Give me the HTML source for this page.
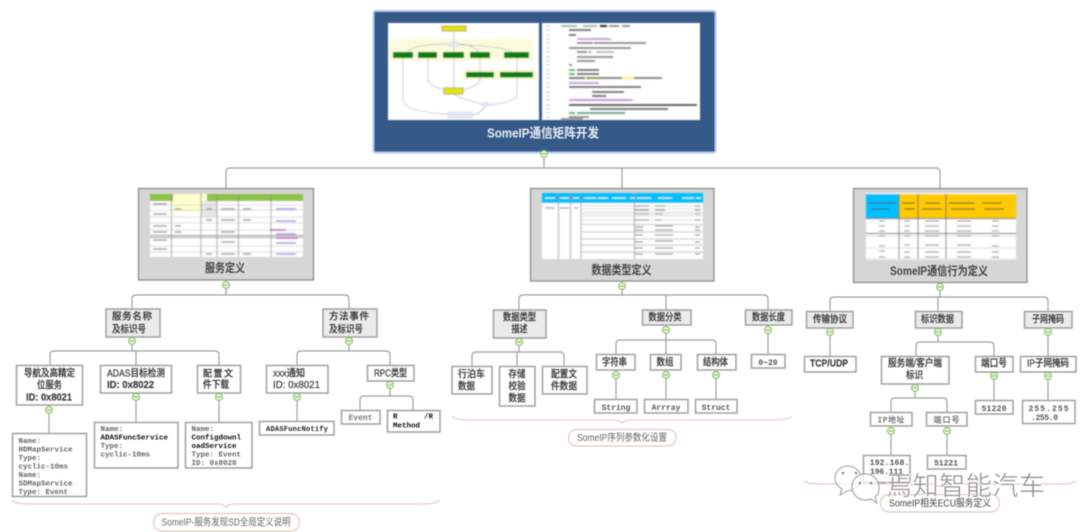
<!DOCTYPE html>
<html lang="zh">
<head>
<meta charset="utf-8">
<title>SomeIP通信矩阵开发</title>
<style>
html,body{margin:0;padding:0;background:#fff;width:1080px;height:532px;overflow:hidden}
svg{display:block;filter:blur(.4px)}
text{font-family:"Liberation Sans","Noto Sans CJK SC",sans-serif;fill:#3c3c3c}
.t{font-size:10px;text-anchor:middle;font-weight:500;stroke:#3c3c3c;stroke-width:.2px}
.b{font-weight:bold}
.h{font-size:11px;text-anchor:middle;font-weight:bold;fill:#444}
.m{font-family:"Liberation Mono","Noto Sans CJK SC",monospace;font-size:7.5px;fill:#666;font-weight:bold}
.md{font-family:"Liberation Mono","Noto Sans CJK SC",monospace;font-size:7.5px;fill:#111;font-weight:bold}
.mc{font-family:"Liberation Mono","Noto Sans CJK SC",monospace;font-size:8px;fill:#555;text-anchor:middle;font-weight:bold}
.s{font-size:10px;text-anchor:middle;fill:#666}
.box{fill:#fff;stroke:#a0a0a0;stroke-width:1.5}
.g{fill:#ebebeb;stroke:#a0a0a0;stroke-width:1.5}
.tp{fill:#d6d6d6;stroke:#8e8e8e;stroke-width:1.3}
.c{fill:none;stroke:#a0a0a0;stroke-width:1.2}
.br{fill:none;stroke:#dcc4b6;stroke-width:1}
.lab{fill:#fff;stroke:#d9bfb0;stroke-width:1}
.tl{stroke:#bbb;stroke-width:.6;fill:none}
.td{stroke:#888;stroke-width:.8;fill:none}
.gr{fill:#0a7d0a}
.ye{fill:#e9e400;stroke:#777;stroke-width:.6}
.li{fill:#e6e6fa;stroke:#ccc;stroke-width:.4}
.fl{fill:none;stroke:#b8b8b8;stroke-width:.7}
.q{font-size:10px;font-weight:500;stroke:#3c3c3c;stroke-width:.2px}
</style>
</head>
<body>
<svg width="1080" height="532" viewBox="0 0 1080 532" xmlns="http://www.w3.org/2000/svg">
<defs>
<g id="cz">
<circle r="3.5" fill="#eaf5e0" stroke="#8cc46a" stroke-width="1.1"/>
<rect x="-2.2" y="-.6" width="4.4" height="1.2" fill="#8cc46a"/>
</g>
<filter id="bl" x="-5%" y="-5%" width="110%" height="110%"><feGaussianBlur stdDeviation=".6"/></filter>
</defs>
<rect width="1080" height="532" fill="#fff"/>

<!-- connectors -->
<path class="c" d="M544 158V168M226 188V172Q226 168 230 168H936Q940 168 940 172V188M622 168V188"/>
<path class="c" d="M226 280V295M132 309V299Q132 295 136 295H345Q349 295 349 299V309"/>
<path class="c" d="M132 337V351M50 365V355Q50 351 54 351H215Q219 351 219 355V365M136 351V365"/>
<path class="c" d="M349 337V351M297 365V355Q297 351 301 351H386Q390 351 390 355V365"/>
<path class="c" d="M49 405V433M136 393V422M219 393V422M297 393V421"/>
<path class="c" d="M390 381V396M360 410V400Q360 396 364 396H409Q413 396 413 400V410"/>
<path class="c" d="M622 281V295M519 310V299Q519 295 523 295H764Q768 295 768 299V310M666 295V310"/>
<path class="c" d="M519 338V352M472 366V356Q472 352 476 352H560Q564 352 564 356V366M517 352V366"/>
<path class="c" d="M666 325V354M616 354V344Q616 340 620 340H712Q716 340 716 344V354"/>
<path class="c" d="M616 370V399M666 370V399M716 370V399M768 325V354"/>
<path class="c" d="M940 283V297M830 311V301Q830 297 834 297H1044Q1048 297 1048 301V311M938 297V311"/>
<path class="c" d="M830 328V356M1048 328V356M1048 372V400M994 372V400"/>
<path class="c" d="M938 328V342M916 356V346Q916 342 920 342H990Q994 342 994 346V356"/>
<path class="c" d="M915 384V398M891 412V402Q891 398 895 398H943Q947 398 947 402V412"/>
<path class="c" d="M891 426V455M947 426V455"/>

<!-- root -->
<rect x="373.500" y="11" width="342" height="141.500" rx="2" fill="#365a87" stroke="#b4c6f5" stroke-width="2"/>
<rect x="388" y="23" width="151" height="97" fill="#fff" stroke="#9fb0c8" stroke-width=".6"/>
<rect x="542" y="23" width="158" height="97" fill="#fff" stroke="#9fb0c8" stroke-width=".6"/>
<g filter="url(#bl)">
<rect x="389" y="39" width="144" height="22" fill="#fbfbdc"/>
<rect x="462" y="69" width="75" height="11" fill="#fbfbdc"/>
<rect class="ye" x="442" y="26" width="24" height="5"/>
<path class="fl" d="M454 31V42M454 47V88M408 58Q402 44 448 44M428 58V80Q428 85 444 90M480 58Q480 46 460 44M517 58Q516 46 460 45M403 58V100Q404 112 448 114M480 58V72M517 58V72M517 77V95Q516 102 489 105M480 77V80Q478 86 463 90M454 94Q458 98 482 104M485 107Q480 114 472 115"/>
<rect class="gr" x="393" y="52" width="20" height="6"/><rect class="gr" x="418" y="52" width="19" height="6"/><rect class="gr" x="443" y="52" width="21" height="6"/><rect class="gr" x="470" y="52" width="20" height="6"/><rect class="gr" x="504" y="52" width="25" height="6"/>
<rect class="gr" x="466" y="72" width="28" height="5.500"/><rect class="gr" x="500" y="72" width="33" height="5.500"/>
<rect class="ye" x="444" y="88" width="19" height="6"/>
<ellipse class="li" cx="454" cy="44.500" rx="6" ry="2.500"/><ellipse class="li" cx="485.500" cy="104.500" rx="3.500" ry="2.500"/>
<rect class="li" x="448" y="112" width="24" height="6"/>
<path stroke="#dcdcdc" stroke-width="1.500" d="M546 26h4M546 30h4M546 35h4M546 39h4M546 43h4M546 48h4M546 52h4M546 57h4M546 61h4M546 65h4M546 70h4M546 74h4M546 78h4M546 83h4M546 87h4M546 92h4M546 96h4M546 100h4M546 105h4M546 109h4M546 113h4M546 117h4"/>
<g fill="none" stroke-width="1.500">
<path stroke="#8aa39a" d="M561 26h16M583 26h14"/><path stroke="#222" stroke-width="2" d="M600 26h7"/><path stroke="#777" d="M609 26h10M622 26h8"/>
<path stroke="#555" d="M569 30h22M569 35h7M577 70h22M577 74h22"/>
<path stroke="#b58ad0" d="M577 39h34M577 100h52"/>
<path stroke="#777" d="M577 43h16M594 43h52M569 48h62M577 52h10"/><path stroke="#aaa" d="M588 52h4M596 52h18"/>
<path stroke="#777" d="M577 57h36M577 61h18M569 65h3"/>
<path stroke="#3a9a5a" d="M569 70h6M569 74h6M569 113h6"/><path stroke="#555" d="M569 78h16"/><path stroke="#fdf3a0" stroke-width="3" d="M586 78h14M622 78h12"/><path stroke="#666" d="M586 78h36M634 78h28"/>
<path stroke="#b58ad0" d="M569 83h30"/><path stroke="#555" d="M569 87h72M592 92h32M592 96h14"/>
<path stroke="#b58ad0" d="M569 100h64"/><path stroke="#333" d="M569 105h128"/><path stroke="#555" d="M590 109h78"/><path stroke="#4a8f6a" d="M577 113h48"/><path stroke="#777" d="M569 117h20M561 119h22"/>
</g>
</g>
<text x="543" y="137.500" textLength="112" lengthAdjust="spacingAndGlyphs" font-size="13" font-weight="bold" text-anchor="middle" style="fill:#e6ecf4">SomeIP通信矩阵开发</text>
<use href="#cz" x="544" y="154"/>

<!-- topic 1 -->
<rect class="tp" x="138.500" y="188.500" width="175" height="91.500"/>
<g filter="url(#bl)">
<rect x="150" y="194" width="153" height="63" fill="#fff"/>
<rect x="150" y="194" width="153" height="7" fill="#8fc24a"/>
<rect x="173" y="194" width="34" height="18" fill="#ffffcc"/>
<rect x="201" y="201" width="16" height="16" fill="#e6e6e6"/>
<path class="td" d="M171.500 194V257M201 194V257M217 194V257M238.500 194V257M271 194V257"/>
<path class="tl" d="M150 205H303M150 210H303M150 217H303M150 223H303M150 230H303M150 236H303M150 246H303M150 252H303"/>
<path stroke="#999" stroke-width="1" d="M150 235.500H303M150 237.500H303"/>
<path stroke="#888" stroke-width="1.200" fill="none" d="M153 204h14M153 214h14M153 226h14M153 232h14M153 240h14M153 249h14M175 209h6M175 226h6M175 232h6M206 209h6M206 220h6M206 254h6M221 209h14M221 220h14M221 232h14M221 242h14M221 254h14M243 209h8M243 220h8M243 254h8"/>
<path stroke="#7a80e8" stroke-width="1.200" d="M276 209h20M276 221h20M276 234h20M276 243h20M276 254h20"/>
<path stroke="#c04fb0" stroke-width="1.500" d="M270 230h16M276 238h22"/>
</g>
<text class="h" x="225" y="272" textLength="40" lengthAdjust="spacingAndGlyphs" style="font-size:12px">服务定义</text>
<use href="#cz" x="226" y="285"/>

<rect class="g" x="106" y="309" width="54" height="28"/>
<text class="q" x="112" y="319.500" textLength="40" style="font-size:9.500px">服务名称</text>
<text class="q" x="112" y="332.500" textLength="34" lengthAdjust="spacingAndGlyphs">及标识号</text>
<use href="#cz" x="132" y="341"/>
<rect class="g" x="323" y="309" width="54" height="28"/>
<text class="q" x="329" y="319.500" textLength="40" style="font-size:9.500px">方法事件</text>
<text class="q" x="329" y="332.500" textLength="34" lengthAdjust="spacingAndGlyphs">及标识号</text>
<use href="#cz" x="349" y="341"/>

<rect class="box" x="16.500" y="365.500" width="66" height="39.500"/>
<text class="t" x="49.500" y="376.500" textLength="51" lengthAdjust="spacingAndGlyphs">导航及高精定</text>
<text class="t" x="49.500" y="388.500" textLength="25" lengthAdjust="spacingAndGlyphs">位服务</text>
<text class="t b" x="49" y="400.500" textLength="46" lengthAdjust="spacingAndGlyphs">ID: 0x8021</text>
<use href="#cz" x="49" y="410"/>
<rect class="box" x="100.500" y="365.500" width="71" height="27.500"/>
<text class="t" x="136" y="376.500" textLength="58" lengthAdjust="spacingAndGlyphs">ADAS目标检测</text>
<text class="t b" x="130.500" y="388" textLength="47" lengthAdjust="spacingAndGlyphs">ID: 0x8022</text>
<use href="#cz" x="136" y="397"/>
<rect class="box" x="197.500" y="365.500" width="43" height="27.500"/>
<text class="q" x="203" y="376.500" textLength="30" style="font-size:9px">配置文</text>
<text class="q" x="203" y="388" textLength="26" lengthAdjust="spacingAndGlyphs">件下载</text>
<use href="#cz" x="219" y="397"/>

<rect class="box" x="12.500" y="433.500" width="74" height="63"/>
<text class="m" x="18.500" y="443">Name:</text>
<text class="m" x="18.500" y="451.500">HDMapService</text>
<text class="m" x="18.500" y="460">Type:</text>
<text class="m" x="18.500" y="468.500">cyclic-10ms</text>
<text class="m" x="18.500" y="477">Name:</text>
<text class="m" x="18.500" y="485.500">SDMapService</text>
<text class="m" x="18.500" y="494">Type: Event</text>

<rect class="box" x="94.500" y="422.500" width="83.500" height="45.500"/>
<text class="m" x="100.500" y="431">Name:</text>
<text class="md" x="100.500" y="439.500">ADASFuncService</text>
<text class="m" x="100.500" y="448">Type:</text>
<text class="m" x="100.500" y="456.500">cyclic-10ms</text>

<rect class="box" x="185.500" y="422.500" width="66.500" height="45.500"/>
<text class="m" x="191.500" y="431">Name:</text>
<text class="md" x="191.500" y="439.500">Configdownl</text>
<text class="md" x="191.500" y="448">oadService</text>
<text class="m" x="191.500" y="456.500">Type: Event</text>
<text class="m" x="191.500" y="465">ID: 0x8028</text>

<rect class="box" x="266.500" y="365.500" width="61.500" height="27.500"/>
<text class="q" x="273" y="376.500" textLength="32" lengthAdjust="spacingAndGlyphs">xxx通知</text>
<text class="q b" x="273" y="388" textLength="47" lengthAdjust="spacingAndGlyphs">ID: 0x8021</text>
<use href="#cz" x="297" y="397"/>
<rect class="box" x="367.500" y="365.500" width="46.500" height="15.500"/>
<text class="t" x="390.500" y="376.500" textLength="33" lengthAdjust="spacingAndGlyphs">RPC类型</text>
<use href="#cz" x="390" y="385"/>
<rect class="box" x="259.500" y="421.500" width="74.500" height="13.500"/>
<text x="266" y="431" style="font-family:'Liberation Mono',monospace;font-size:7px;font-weight:bold;fill:#222" textLength="62">ADASFuncNotify</text>
<rect class="box" x="341.500" y="410.500" width="38.500" height="13.500"/>
<text class="mc" x="360.500" y="420" style="fill:#777">Event</text>
<rect class="box" x="387.500" y="410.500" width="52.500" height="21.500"/>
<text class="md" x="393" y="418.500">R</text><text class="md" x="424" y="418.500">/R</text>
<text class="md" x="393" y="427.500">Method</text>

<path class="br" d="M12 500Q14 504 30 504H218Q223 504 226 507Q229 504 234 504H422Q436 504 440 500"/>
<rect class="lab" x="153.500" y="513.500" width="146" height="17.500" rx="8.700"/>
<text class="s" x="226" y="525.500" textLength="129" lengthAdjust="spacingAndGlyphs">SomeIP-服务发现SD全局定义说明</text>

<!-- topic 2 -->
<rect class="tp" x="530.500" y="188.500" width="183.500" height="92.500"/>
<g filter="url(#bl)">
<rect x="542" y="193" width="161" height="66" fill="#fff"/>
<rect x="542" y="193" width="161" height="10" fill="#00bfff"/>
<path class="td" d="M558.500 193V259M570.500 193V259M581 193V259M634.500 193V259"/>
<path class="tl" d="M582 206H703M582 209H703M582 212H703M582 214H703M582 216H703M582 220H703"/>
<path stroke="#aaa" stroke-width=".7" d="M582 224.500H703M582 232H703M582 239H703M582 245H703M582 252H703"/>
<path stroke="#666" stroke-width="1" d="M545 208h10M560 208h9M574 208h4M635 206h14M655 206h10M695 206h5M635 210h14M655 210h10M695 210h5M635 214h14M655 214h8M695 214h5M635 220h14M655 220h6M695 220h5M635 227h8M655 226h18M695 227h5M635 230h8M655 230h18M695 230h5M635 235h8M655 235h18M695 235h5M635 242h8M655 241h18M695 242h5M635 248h8M655 248h18M695 248h5M635 254h8M655 254h18M695 254h5"/>
<path stroke="#fff" stroke-width="1" d="M545 198h10M560 198h9M573 198h6M584 198h12M598 198h10M612 198h14M630 198h5M637 198h14M658 198h14M682 198h12M696 198h5"/>
</g>
<text class="h" x="621.500" y="274" textLength="60" lengthAdjust="spacingAndGlyphs" style="font-size:12px">数据类型定义</text>
<use href="#cz" x="622" y="286"/>

<rect class="g" x="493.500" y="310" width="52.500" height="28"/>
<text class="t" x="519.500" y="320.500" textLength="33" lengthAdjust="spacingAndGlyphs">数据类型</text>
<text class="t" x="519.500" y="332.500" textLength="16" lengthAdjust="spacingAndGlyphs">描述</text>
<use href="#cz" x="519" y="342"/>
<rect class="g" x="642.500" y="310" width="48.500" height="15"/>
<text class="t" x="665" y="320.500" textLength="33" lengthAdjust="spacingAndGlyphs">数据分类</text>
<use href="#cz" x="666" y="330"/>
<rect class="g" x="745.500" y="310" width="46.500" height="15"/>
<text class="t" x="768.500" y="320.500" textLength="33" lengthAdjust="spacingAndGlyphs">数据长度</text>
<use href="#cz" x="768" y="330"/>

<rect class="box" x="452" y="366.500" width="40" height="27.500"/>
<text class="t" x="471.500" y="377.500" textLength="27" lengthAdjust="spacingAndGlyphs">行泊车</text>
<text class="t" x="466.500" y="389.500" textLength="17" lengthAdjust="spacingAndGlyphs">数据</text>
<rect class="box" x="499.500" y="366.500" width="35.500" height="39.500"/>
<text class="t" x="517" y="377.500" textLength="17" lengthAdjust="spacingAndGlyphs">存储</text>
<text class="t" x="517" y="389.500" textLength="17" lengthAdjust="spacingAndGlyphs">校验</text>
<text class="t" x="517" y="401.500" textLength="17" lengthAdjust="spacingAndGlyphs">数据</text>
<rect class="box" x="542.500" y="366.500" width="44.500" height="27.500"/>
<text class="t" x="564" y="377.500" textLength="26" lengthAdjust="spacingAndGlyphs">配置文</text>
<text class="t" x="564" y="389.500" textLength="26" lengthAdjust="spacingAndGlyphs">件数据</text>

<rect class="box" x="596.500" y="354.500" width="38.500" height="15.500"/>
<text class="t" x="614.500" y="365.500" textLength="25" lengthAdjust="spacingAndGlyphs">字符串</text>
<rect class="box" x="650.500" y="354.500" width="30.500" height="15.500"/>
<text class="t" x="665" y="365.500" textLength="17" lengthAdjust="spacingAndGlyphs">数组</text>
<rect class="box" x="697.500" y="354.500" width="38.500" height="15.500"/>
<text class="t" x="715.500" y="365.500" textLength="25" lengthAdjust="spacingAndGlyphs">结构体</text>
<use href="#cz" x="616" y="375"/><use href="#cz" x="666" y="375"/><use href="#cz" x="716" y="375"/>
<rect class="box" x="594.500" y="399.500" width="42.500" height="13.500"/>
<text class="mc" x="616" y="410">String</text>
<rect class="box" x="644.500" y="399.500" width="43.500" height="13.500"/>
<text class="mc" x="666" y="410">Arrray</text>
<rect class="box" x="695.500" y="399.500" width="41.500" height="13.500"/>
<text class="mc" x="716" y="410">Struct</text>
<rect class="box" x="751.500" y="354.500" width="33.500" height="13.500"/>
<text class="mc" x="768" y="365">0~29</text>

<path class="br" d="M452 416Q455 420 470 420H614Q619 420 622 423Q625 420 630 420H774Q789 420 792 416"/>
<rect class="lab" x="568.500" y="429.500" width="107.500" height="16.500" rx="8"/>
<text class="s" x="622" y="441" textLength="90" lengthAdjust="spacingAndGlyphs">SomeIP序列参数化设置</text>

<!-- topic 3 -->
<rect class="tp" x="853.500" y="188.500" width="173.500" height="94"/>
<g filter="url(#bl)">
<rect x="866" y="193" width="150" height="67" fill="#fff"/>
<rect x="866" y="194" width="33" height="24" fill="#00bfff"/>
<rect x="899" y="194" width="117" height="24" fill="#ffca00"/>
<path stroke="#555" stroke-width=".8" d="M899 194V259M918 194V259M946 194V259"/>
<path stroke="#555" stroke-width="1" d="M866 218.500H1016M866 233.500H1016"/>
<path class="tl" d="M866 236H1016M866 248H1016M866 259H1016"/>
<path stroke="#333" stroke-width="1" d="M868 203h28M871 209h18M902 203h13M904 209h11M925 203h15M922 209h20M949 203h26M951 209h24M982 203h20M984 209h20"/>
<path stroke="#777" stroke-width="1.100" d="M879 221h6M904 221h6M925 221h14M957 221h14M992 221h7M879 226h6M904 226h6M925 226h14M957 226h14M992 226h7M879 231h6M904 231h6M925 231h14M957 231h14M992 231h7M879 236h6M904 236h6M925 236h14M957 236h14M992 236h7M879 246h6M904 245h6M925 245h14M957 245h14M992 246h7M879 251h6M904 252h6M925 252h14M957 252h14M992 252h7M879 257h6M904 257h6M925 257h14M957 257h14M992 257h7"/>
</g>
<text class="h" x="939" y="275" textLength="98" lengthAdjust="spacingAndGlyphs" style="font-size:12px">SomeIP通信行为定义</text>
<use href="#cz" x="940" y="287"/>

<rect class="g" x="806.500" y="311.500" width="46.500" height="16.500"/>
<text class="t" x="830" y="322.500" textLength="34" lengthAdjust="spacingAndGlyphs">传输协议</text>
<rect class="g" x="915.500" y="311.500" width="46.500" height="16.500"/>
<text class="t" x="937.500" y="322.500" textLength="33" lengthAdjust="spacingAndGlyphs">标识数据</text>
<rect class="g" x="1024.500" y="311.500" width="47.500" height="16.500"/>
<text class="t" x="1048" y="322.500" textLength="32" lengthAdjust="spacingAndGlyphs">子网掩码</text>
<use href="#cz" x="830" y="332"/><use href="#cz" x="938" y="332"/><use href="#cz" x="1048" y="332"/>

<rect class="box" x="804.500" y="356.500" width="51.500" height="15.500"/>
<text class="t b" x="829" y="366.500" textLength="38" lengthAdjust="spacingAndGlyphs">TCP/UDP</text>
<rect class="box" x="881.500" y="356.500" width="67.500" height="27.500"/>
<text class="t" x="915" y="366.500" textLength="54" lengthAdjust="spacingAndGlyphs">服务端/客户端</text>
<text class="t" x="914.500" y="378.500" textLength="17" lengthAdjust="spacingAndGlyphs">标识</text>
<use href="#cz" x="915" y="388"/>
<rect class="box" x="975.500" y="356.500" width="37.500" height="15.500"/>
<text class="t" x="994" y="366.500" textLength="26" lengthAdjust="spacingAndGlyphs">端口号</text>
<use href="#cz" x="994" y="376"/>
<rect class="box" x="1020.500" y="356.500" width="55.500" height="15.500"/>
<text class="t" x="1048" y="366.500" textLength="42" lengthAdjust="spacingAndGlyphs">IP子网掩码</text>
<use href="#cz" x="1048" y="376"/>

<rect class="box" x="975.500" y="400.500" width="37.500" height="13.500"/>
<text class="mc" x="994" y="411" textLength="25">51220</text>
<rect class="box" x="1022.500" y="400.500" width="52.500" height="23"/>
<text class="mc" x="1048.500" y="411" textLength="40">255.255</text>
<text class="mc" x="1044.500" y="420" textLength="27">.255.0</text>

<rect class="box" x="870.500" y="412.500" width="41.500" height="13.500"/>
<text class="mc" x="891" y="422.500" textLength="27" style="fill:#777">IP地址</text>
<rect class="box" x="926.500" y="412.500" width="40.500" height="13.500"/>
<text class="mc" x="946.500" y="422.500" textLength="26" style="fill:#777">端口号</text>
<use href="#cz" x="891" y="431"/><use href="#cz" x="947" y="431"/>

<rect class="box" x="863.500" y="455.500" width="46.500" height="27"/>
<text class="mc" x="889.500" y="465" textLength="39.500">192.168.</text>
<text class="mc" x="886.500" y="474" textLength="33">196.111</text>
<rect class="box" x="927.500" y="455.500" width="38.500" height="13.500"/>
<text class="mc" x="946" y="465.500" textLength="24">51221</text>

<path class="br" d="M804 481Q807 484 820 484H930Q936 484 940 487Q944 484 950 484H1062Q1073 484 1076 481"/>
<rect class="lab" x="880.500" y="494.500" width="119" height="17.500" rx="8.500"/>
<text class="s" x="940" y="506.500" textLength="102" lengthAdjust="spacingAndGlyphs" style="fill:#444">SomeIP相关ECU服务定义</text>

<!-- watermark -->
<g stroke="#9a9a9a" stroke-width="1" fill="#fff" fill-opacity=".75">
<path d="M848 466C840 466 835 472 835 478C835 483 838 487 842 489L840 495L847 491C853 491 861 486 861 478C861 472 855 466 848 466Z"/>
<path d="M865 474C857 474 852 480 852 487C852 494 858 500 865 500C867 500 869 500 871 499L877 503L875 497C879 494 879 491 879 487C879 480 873 474 865 474Z"/>
</g>
<circle cx="843" cy="473" r="1.300" fill="#888"/><circle cx="856" cy="473" r="1.300" fill="#888"/>
<circle cx="860" cy="483" r="1.300" fill="#888"/><circle cx="871" cy="483" r="1.300" fill="#888"/>
<text x="886" y="495" textLength="159" style="font-size:26px;fill:#8a8a8a;stroke:#fff;stroke-width:1.500px;paint-order:stroke" font-weight="300">焉知智能汽车</text>
</svg>
</body>
</html>
